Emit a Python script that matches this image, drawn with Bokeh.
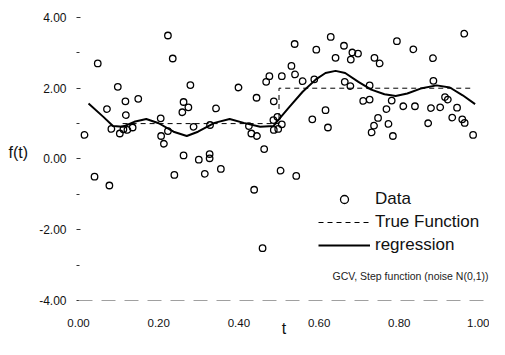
from bokeh.plotting import figure
from bokeh.models import FixedTicker, PrintfTickFormatter, Span, Label, Legend, LegendItem, Range1d
from bokeh.embed import file_html
from bokeh.resources import INLINE

# Data
data_t = [0.223, 0.235, 0.048, 0.098, 0.279, 0.399, 0.149, 0.117, 0.444, 0.468,
          0.476, 0.487, 0.071, 0.262, 0.274, 0.259, 0.343, 0.118, 0.205, 0.082,
          0.103, 0.112, 0.122, 0.135, 0.015, 0.223, 0.206, 0.213, 0.287, 0.328,
          0.425, 0.431, 0.445, 0.463, 0.486, 0.487, 0.262, 0.300, 0.327, 0.327,
          0.040, 0.077, 0.239, 0.315, 0.355, 0.438, 0.459, 0.539, 0.629, 0.593,
          0.662, 0.683, 0.697, 0.641, 0.679, 0.738, 0.751, 0.794, 0.835, 0.884,
          0.962, 0.531, 0.540, 0.507, 0.559, 0.588, 0.664, 0.678, 0.726, 0.885,
          0.710, 0.726, 0.781, 0.914, 0.921, 0.616, 0.768, 0.810, 0.839, 0.879,
          0.902, 0.944, 0.583, 0.622, 0.747, 0.737, 0.731, 0.773, 0.784, 0.872,
          0.932, 0.957, 0.963, 0.984, 0.496, 0.507, 0.498, 0.504, 0.543]
data_y = [3.49, 2.84, 2.70, 2.04, 2.09, 2.02, 1.70, 1.63, 1.73, 2.18,
          2.34, 1.63, 1.41, 1.61, 1.46, 1.32, 1.43, 1.24, 1.15, 0.85,
          0.72, 0.84, 0.82, 0.89, 0.68, 0.79, 0.65, 0.43, 0.91, 0.96,
          0.93, 0.72, 0.65, 0.28, 1.10, 0.82, 0.10, -0.02, 0.14, 0.02,
          -0.50, -0.75, -0.45, -0.42, -0.28, -0.87, -2.52, 3.25, 3.45, 3.09,
          3.20, 3.01, 2.98, 2.86, 2.81, 2.86, 2.70, 3.33, 3.10, 2.85,
          3.54, 2.63, 2.39, 2.34, 2.20, 2.25, 2.18, 2.06, 2.08, 2.21,
          1.64, 1.68, 1.65, 1.75, 1.68, 1.38, 1.41, 1.49, 1.49, 1.44,
          1.46, 1.45, 1.12, 0.89, 1.16, 0.94, 0.75, 0.99, 0.65, 1.01,
          1.17, 1.12, 1.02, 0.68, 1.19, 0.98, 0.85, -0.33, -0.48]

reg_t = [0.025, 0.062, 0.086, 0.111, 0.139, 0.169, 0.200, 0.237, 0.270, 0.298,
         0.339, 0.377, 0.412, 0.453, 0.486, 0.498, 0.526, 0.559, 0.592, 0.616,
         0.641, 0.665, 0.698, 0.730, 0.763, 0.791, 0.820, 0.853, 0.893, 0.926,
         0.958, 0.989]
reg_y = [1.57, 1.19, 0.93, 0.91, 1.05, 1.13, 1.01, 0.77, 0.65, 0.77,
         1.02, 1.13, 1.02, 0.91, 0.93, 1.10, 1.47, 1.90, 2.25, 2.43,
         2.49, 2.43, 2.18, 1.96, 1.83, 1.78, 1.85, 1.99, 2.08, 2.02,
         1.80, 1.55]

true_t = [0.11, 0.5, 0.5, 0.978]
true_y = [1.0, 1.0, 2.0, 2.0]

x_ticks = [0.0, 0.2, 0.4, 0.6, 0.8, 1.0]
y_ticks = [-4, -2, 0, 2, 4]
y_minor = [-3, -1, 1, 3]

FONT = "Liberation Sans"

p = figure(width=489, height=339, output_backend="svg", toolbar_location=None,
           x_range=Range1d(0, 1.0249), y_range=Range1d(-4.1127, 4.479),
           min_border_left=78, min_border_right=0, min_border_top=0, min_border_bottom=34)
p.outline_line_color = None
p.grid.visible = False
p.background_fill_color = "white"

# axis line at y = -4 (faint dashed)
p.add_layout(Span(location=-4, dimension="width", line_color="#a0a0a0",
                  line_width=1, line_dash="14 9"))

true_r = p.line(true_t, true_y, line_color="black", line_width=1, line_dash="5 4")
reg_r = p.line(reg_t, reg_y, line_color="black", line_width=2)
data_r = p.scatter(data_t, data_y, marker="circle", size=6.5, fill_color=None,
                   line_color="black", line_width=1.3)

# axes
xa = p.xaxis[0]
xa.ticker = FixedTicker(ticks=x_ticks, minor_ticks=[])
xa.formatter = PrintfTickFormatter(format="%.2f")
xa.axis_line_color = None
xa.major_tick_line_color = None
xa.minor_tick_line_color = None
xa.major_label_text_font = FONT
xa.major_label_text_font_size = "11.5px"
xa.major_label_text_color = "#111111"
xa.major_label_standoff = 8
xa.axis_label = "t"
xa.axis_label_text_font = FONT
xa.axis_label_text_font_size = "16px"
xa.axis_label_text_font_style = "normal"
xa.axis_label_text_color = "#111111"
xa.axis_label_standoff = -10

ya = p.yaxis[0]
ya.ticker = FixedTicker(ticks=y_ticks, minor_ticks=y_minor)
ya.formatter = PrintfTickFormatter(format="%.2f")
ya.axis_line_color = None
ya.major_tick_in = 2
ya.major_tick_out = 2
ya.minor_tick_in = 1
ya.minor_tick_out = 2
ya.major_tick_line_color = "#333333"
ya.minor_tick_line_color = "#333333"
ya.major_label_text_font = FONT
ya.major_label_text_font_size = "12px"
ya.major_label_text_color = "#111111"
ya.major_label_standoff = 10
ya.axis_label = "f(t)"
ya.axis_label_orientation = "horizontal"
ya.axis_label_text_font = FONT
ya.axis_label_text_font_size = "16px"
ya.axis_label_text_font_style = "normal"
ya.axis_label_text_color = "#111111"
ya.axis_label_standoff = 8

legend = Legend(items=[LegendItem(label="Data", renderers=[data_r]),
                       LegendItem(label="True Function", renderers=[true_r]),
                       LegendItem(label="regression", renderers=[reg_r])],
                location=(240, 49), padding=0, margin=0, spacing=3,
                glyph_width=52, glyph_height=20, label_height=20, label_standoff=5,
                label_text_font=FONT, label_text_font_size="17px",
                label_text_color="#111111",
                border_line_color=None, background_fill_color=None)
p.add_layout(legend)

p.add_layout(Label(x=1.0224, y=-3.32, text="GCV, Step function (noise N(0,1))",
                   text_font=FONT, text_font_size="10.5px", text_color="#222222",
                   text_align="right", text_baseline="middle"))

open("out.html", "w").write(file_html(p, INLINE))
